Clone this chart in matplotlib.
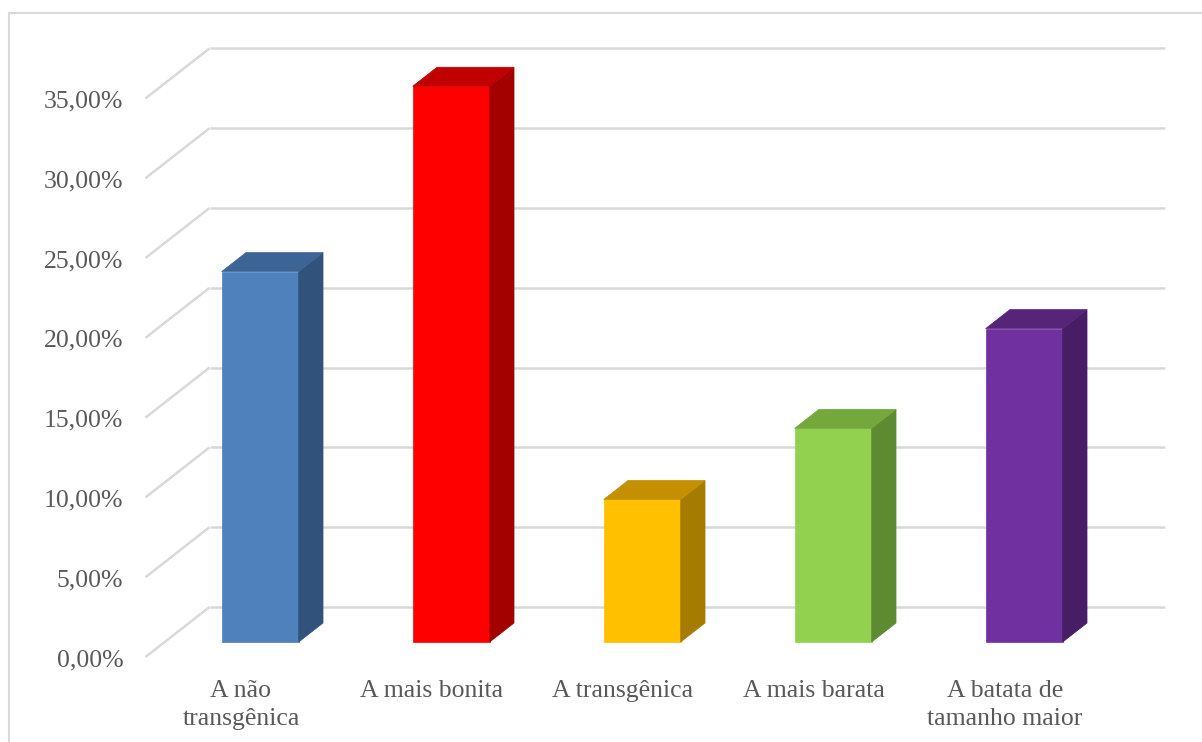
import numpy as np
import matplotlib
matplotlib.use("Agg")
import matplotlib.pyplot as plt
from matplotlib.patches import Polygon
from matplotlib.lines import Line2D

categories = ["A não\ntransgênica", "A mais bonita", "A transgênica",
              "A mais barata", "A batata de\ntamanho maior"]
values = [23.21, 34.82, 8.93, 13.39, 19.64]   # percent
ticks = [0, 5, 10, 15, 20, 25, 30, 35]

front_colors = ["#4F81BD", "#FF0000", "#FFC000", "#92D050", "#7030A0"]
top_colors   = ["#3C6494", "#C00000", "#C49000", "#74A83C", "#562478"]
side_colors  = ["#30527B", "#A30000", "#A67C00", "#5E8A32", "#471E66"]

GRID = "#D9D9D9"
TEXT = "#595959"
FONT = "Liberation Serif"

# geometry (pixels -> data units)
W, H = 1202, 742
PX_CAT = 191.0     # px per category
PX_PCT = 15.96     # px per percent
X0_PX, Y0_PX = 241, 657
DX = 64 / PX_CAT   # depth offset of back wall
DY = 50 / PX_PCT
BAR_W = 77 / PX_CAT
D_FRONT, D_BACK = 0.30, 0.68

fig = plt.figure(figsize=(W / 100, H / 100), dpi=100)
ax = fig.add_axes([0, 0, 1, 1])
ax.set_xlim(-X0_PX / PX_CAT, (W - X0_PX) / PX_CAT)
ax.set_ylim(-(H - Y0_PX) / PX_PCT, Y0_PX / PX_PCT)
ax.axis("off")

x_left, x_right = -0.5, len(categories) - 0.5

# walls / gridlines
for v in ticks:
    ax.plot([x_left, x_left + DX], [v, v + DY], color=GRID, lw=1.8, zorder=1,
            solid_capstyle="butt")
    ax.plot([x_left + DX, x_right + DX], [v + DY, v + DY], color=GRID, lw=1.8,
            zorder=1, solid_capstyle="butt")
    ax.text(x_left - 22 / PX_CAT, v - 3 / PX_PCT, f"{v:.2f}%".replace(".", ","),
            ha="right", va="center", fontsize=18.5, color=TEXT, family=FONT)

# 3D bars
dd = D_BACK - D_FRONT
for i, v in enumerate(values):
    xl = i - BAR_W / 2 + D_FRONT * DX
    xr = xl + BAR_W
    b = D_FRONT * DY
    t = b + v
    ox, oy = dd * DX, dd * DY
    ax.bar(xl, v, BAR_W, bottom=b, align="edge", color=front_colors[i],
           edgecolor=front_colors[i], lw=0.5, zorder=3)
    ax.add_patch(Polygon([(xr, b), (xr + ox, b + oy), (xr + ox, t + oy), (xr, t)],
                         closed=True, facecolor=side_colors[i],
                         edgecolor=side_colors[i], lw=0.5, zorder=3))
    ax.add_patch(Polygon([(xl, t), (xl + ox, t + oy), (xr + ox, t + oy), (xr, t)],
                         closed=True, facecolor=top_colors[i],
                         edgecolor=top_colors[i], lw=0.5, zorder=3))

# category labels
for i, c in enumerate(categories):
    ax.text(i, -23 / PX_PCT, c, ha="center", va="top", fontsize=18.5,
            color=TEXT, family=FONT, linespacing=1.33)

# chart border (top and left visible)
fig.add_artist(Line2D([9 / W, 1], [1 - 13 / H, 1 - 13 / H], color=GRID, lw=1.5))
fig.add_artist(Line2D([9 / W, 9 / W], [0, 1 - 13 / H], color=GRID, lw=1.5))

fig.savefig("out.png", dpi=100)
